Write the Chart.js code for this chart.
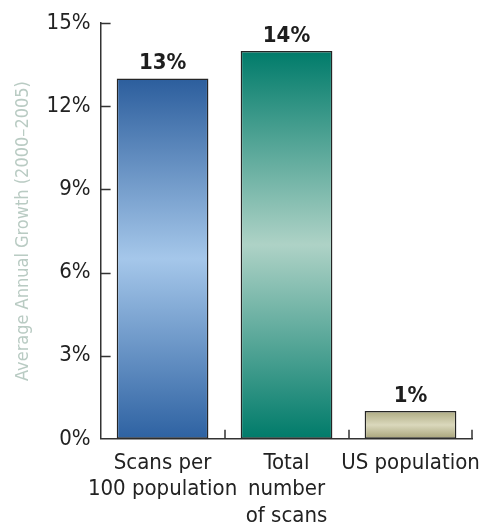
<!DOCTYPE html>
<html>
<head>
<meta charset="utf-8">
<script src="https://cdn.jsdelivr.net/npm/chart.js@4"></script>
<style>
  body { margin: 0; background: #fff; }
  #wrap { width: 491px; height: 526px; }
</style>
</head>
<body>
<div id="wrap"><canvas id="myChart" width="491" height="526"></canvas></div>
<script>
const categories = [['Scans per', '100 population'], ['Total', 'number', 'of scans'], 'US population'];
const growth = [13, 14, 1];
const yTicks = [0, 3, 6, 9, 12, 15];
const yTitle = 'Average Annual Growth (2000\u20132005)';

// dark edge / light middle for each bar
const barShades = [
  ['#2c5e9d', '#a5c7ea', '#2e62a2'],
  ['#007b6a', '#aed2c6', '#007b6a'],
  ['#aeab82', '#dad8bc', '#a7a379']
];

const FONT = "'DejaVu Sans Condensed', 'Liberation Sans', Arial, sans-serif";

const barFill = c => {
  const chart = c.chart;
  const shade = barShades[c.dataIndex];
  if (!chart.chartArea) return shade[0];
  const y = chart.scales.y;
  const top = y.getPixelForValue(c.raw);
  const bottom = y.getPixelForValue(0);
  const g = chart.ctx.createLinearGradient(0, top, 0, bottom);
  g.addColorStop(0, shade[0]);
  g.addColorStop(0.5, shade[1]);
  g.addColorStop(1, shade[2]);
  return g;
};

// short tick marks pointing into the plot
const innerTicks = {
  id: 'innerTicks',
  afterDraw(chart) {
    const { ctx, chartArea, scales: { x, y } } = chart;
    ctx.save();
    ctx.strokeStyle = '#333';
    ctx.lineWidth = 1.5;
    ctx.beginPath();
    y.ticks.forEach(t => {
      if (t.value === 0) return;
      const py = Math.round(y.getPixelForValue(t.value)) + 0.5;
      ctx.moveTo(chartArea.left, py);
      ctx.lineTo(chartArea.left + 10, py);
    });
    for (let i = 0; i < categories.length; i++) {
      const px = Math.round(x.getPixelForValue(i + 0.5));
      ctx.moveTo(px, chartArea.bottom);
      ctx.lineTo(px, chartArea.bottom - 9);
    }
    ctx.stroke();
    ctx.restore();
  }
};

const valueLabels = {
  id: 'valueLabels',
  afterDatasetsDraw(chart) {
    const { ctx } = chart;
    const meta = chart.getDatasetMeta(0);
    ctx.save();
    ctx.font = 'bold 22px ' + FONT;
    ctx.fillStyle = '#1e1e1e';
    ctx.textAlign = 'center';
    ctx.textBaseline = 'bottom';
    meta.data.forEach((bar, i) => {
      ctx.fillText(growth[i] + '%', bar.x, bar.y - 4);
    });
    ctx.restore();
  }
};

const ctx = document.getElementById('myChart').getContext('2d');
const chart = new Chart(ctx, {
  type: 'bar',
  data: {
    labels: categories,
    datasets: [{
      data: growth,
      backgroundColor: barFill,
      borderColor: '#252525',
      borderWidth: 1.5,
      borderSkipped: false,
      barPercentage: 0.74,
      categoryPercentage: 1
    }]
  },
  options: {
    responsive: false,
    animation: false,
    layout: { padding: { top: 8, right: 1, left: 13, bottom: -14 } },
    plugins: { legend: { display: false }, tooltip: { enabled: false } },
    scales: {
      x: {
        grid: { display: false, drawTicks: false },
        border: { display: true, color: '#333', width: 1.5 },
        ticks: {
          color: '#222',
          font: { family: FONT, size: 22, lineHeight: 1.2 },
          padding: 11,
          maxRotation: 0,
          autoSkip: false
        }
      },
      y: {
        min: 0,
        max: 15,
        afterBuildTicks: s => { s.ticks = yTicks.map(v => ({ value: v })); },
        grid: { display: false, drawTicks: false },
        border: { display: true, color: '#333', width: 1.5 },
        ticks: {
          color: '#222',
          font: { family: FONT, size: 22 },
          padding: 10,
          callback: v => v + '%'
        },
        title: {
          display: true,
          text: yTitle,
          color: '#b9cbc3',
          font: { family: FONT, size: 18 },
          padding: { top: 0, bottom: 2 }
        }
      }
    }
  },
  plugins: [innerTicks, valueLabels]
});
</script>
</body>
</html>
